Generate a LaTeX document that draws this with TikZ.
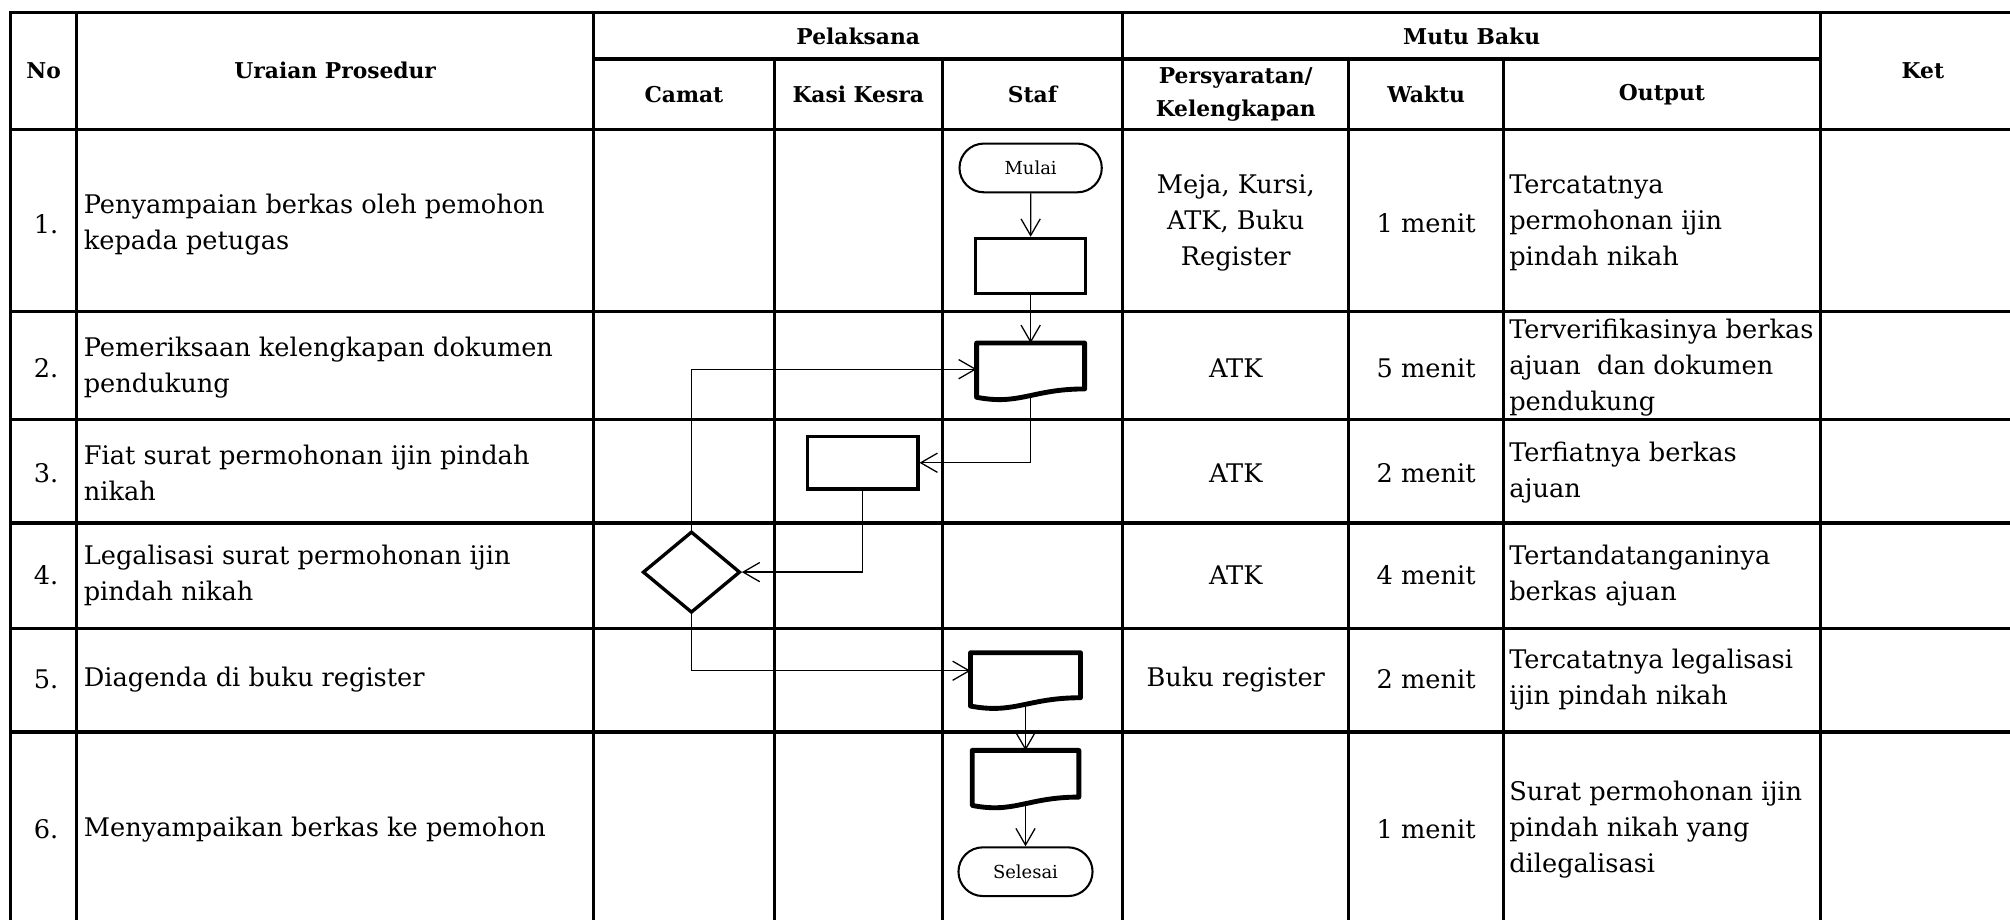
\documentclass[tikz,border=0pt]{standalone}
\usepackage{fontspec}
\setmainfont{DejaVu Serif}
\usetikzlibrary{shapes.geometric,shapes.misc,arrows.meta,calc}
\newcommand\mydocshape[1]{%
  \draw[docline] (#1.south east) -- (#1.north east) -- (#1.north west) --
    ($(#1.south west)+(0,6.5)$) .. controls ($(#1.south)+(-8.5,13)$) and ($(#1.south)+(1.5,0)$) .. (#1.south east) -- cycle;}
\begin{document}
\begin{tikzpicture}[x=0.5pt,y=-0.5pt,
 grid/.style={line width=1.2pt},
 hdr/.style={font=\fontsize{8.5}{13}\selectfont\bfseries, align=center, inner sep=0},
 body/.style={font=\fontsize{10}{14}\selectfont, inner sep=0},
 lt/.style={body, align=left, anchor=west},
 ct/.style={body, align=center},
 arr/.style={line width=0.5pt, -{Straight Barb[length=6.5pt,width=7.5pt]}},
 term/.style={draw, rounded rectangle, line width=0.8pt, minimum height=19pt, inner sep=0, font=\fontsize{7}{8}\selectfont},
 proc/.style={draw, rectangle, line width=1.3pt, inner sep=0},
 decis/.style={draw, diamond, line width=1.3pt, inner sep=0, minimum width=38pt, minimum height=31.7pt},
 docnode/.style={rectangle, inner sep=0},
 docline/.style={line width=1.9pt, line join=round},
]
\fill[white] (0,0) rectangle (1568,718);
\useasboundingbox (0,0) rectangle (1568,718);

% grid
\draw[grid] (1568,10) -- (8,10) -- (8,718);
\draw[grid] (463,46) -- (1420,46);
\foreach \yy in {101,243,327,408,490,571} \draw[grid] (8,\yy) -- (1568,\yy);
\foreach \xx in {60,463,876,1420} \draw[grid] (\xx,10) -- (\xx,718);
\foreach \xx in {604,735,1052,1173} \draw[grid] (\xx,46) -- (\xx,718);

% headers
\node[hdr] (hNo) at (34,55) {No};
\node[hdr] (hUr) at (261.5,55) {Uraian Prosedur};
\node[hdr] (hPel) at (669.5,28) {Pelaksana};
\node[hdr] (hMutu) at (1148,28) {Mutu Baku};
\node[hdr] (hKet) at (1500,55) {Ket};
\node[hdr] (hCam) at (533.5,73.5) {Camat};
\node[hdr] (hKasi) at (669.5,73.5) {Kasi Kesra};
\node[hdr] (hStaf) at (805.5,73.5) {Staf};
\node[hdr] (hPers) at (964,73.5) {Persyaratan/\\Kelengkapan};
\node[hdr] (hWak) at (1112.5,73.5) {Waktu};
\node[hdr] (hOut) at (1296.5,73.5) {Output};

% numbers
\node[ct] (n1) at (36,175) {1.};
\node[ct] (n2) at (36,287) {2.};
\node[ct] (n3) at (36,369) {3.};
\node[ct] (n4) at (36,449) {4.};
\node[ct] (n5) at (36,530) {5.};
\node[ct] (n6) at (36,647) {6.};

% uraian
\node[lt] (u1) at (65,175) {Penyampaian berkas oleh pemohon\\kepada petugas};
\node[lt] (u2) at (65,287) {Pemeriksaan kelengkapan dokumen\\pendukung};
\node[lt] (u3) at (65,369) {Fiat surat permohonan ijin pindah\\nikah};
\node[lt] (u4) at (65,449) {Legalisasi surat permohonan ijin\\pindah nikah};
\node[lt] (u5) at (65,530) {Diagenda di buku register};
\node[lt] (u6) at (65,647) {Menyampaikan berkas ke pemohon};

% persyaratan
\node[ct] (k1) at (964,174) {Meja, Kursi,\\ATK, Buku\\Register};
\node[ct] (k2) at (964,287) {ATK};
\node[ct] (k3) at (964,369) {ATK};
\node[ct] (k4) at (964,449) {ATK};
\node[ct] (k5) at (964,530) {Buku register};

% waktu
\node[ct] (w1) at (1112.5,174) {1 menit};
\node[ct] (w2) at (1112.5,287) {5 menit};
\node[ct] (w3) at (1112.5,369) {2 menit};
\node[ct] (w4) at (1112.5,449) {4 menit};
\node[ct] (w5) at (1112.5,530) {2 menit};
\node[ct] (w6) at (1112.5,647) {1 menit};

% output
\node[lt] (o1) at (1177,174) {Tercatatnya\\permohonan ijin\\pindah nikah};
\node[lt] (o2) at (1177,287) {Terverifikasinya berkas\\ajuan\ \ dan dokumen\\pendukung};
\node[lt] (o3) at (1177,369) {Terfiatnya berkas\\ajuan};
\node[lt] (o4) at (1177,449) {Tertandatanganinya\\berkas ajuan};
\node[lt] (o5) at (1177,530) {Tercatatnya legalisasi\\ijin pindah nikah};
\node[lt] (o6) at (1177,647) {Surat permohonan ijin\\pindah nikah yang\\dilegalisasi};

% flow shapes
\node[term, minimum width=55.5pt] (mulai) at (804,131) {Mulai};
\node[proc, minimum width=43pt, minimum height=21.5pt] (p1) at (804,207.5) {};
\node[docnode, minimum width=41.75pt, minimum height=17.5pt] (d2) at (804,285.5) {};
\mydocshape{d2}
\node[proc, minimum width=43pt, minimum height=20.5pt] (p3) at (673,361) {};
\node[decis] (dia) at (539.4,446.3) {};
\node[docnode, minimum width=42.5pt, minimum height=17.15pt] (d5) at (800,526.75) {};
\mydocshape{d5}
\node[docnode, minimum width=41.2pt, minimum height=17.8pt] (d6) at (800,603.6) {};
\mydocshape{d6}
\node[term, minimum width=52.3pt] (sel) at (800,680) {Selesai};

% connectors
\draw[arr] (mulai) -- (p1);
\draw[arr] (p1) -- (d2);
\draw[arr] ($(d2.south)+(0,3)$) |- (p3.east);
\draw[arr] (p3.south) |- (dia.east);
\draw[arr] (dia.north) |- ($(d2.west)+(0,2.5)$);
\draw[arr] (dia.south) |- ($(d5.west)+(0,-3.5)$);
\draw[arr] ($(d5.south)+(0,3)$) -- (d6.north);
\draw[arr] ($(d6.south)+(0,3)$) -- (sel.north);
\end{tikzpicture}
\end{document}
